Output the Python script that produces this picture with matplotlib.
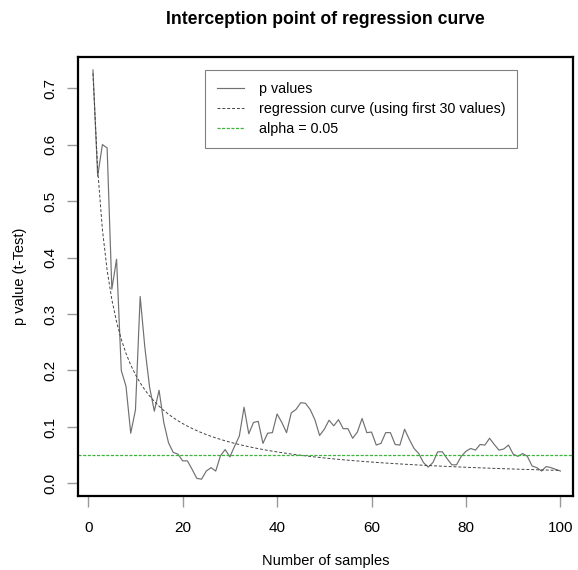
import numpy as np
import matplotlib
matplotlib.use("Agg")
import matplotlib.pyplot as plt

plt.rcParams["font.family"] = ["Liberation Sans", "DejaVu Sans"]

# p values, one per sample size 1..100
samples = np.arange(1, 101)
p_values = [
    0.732, 0.544, 0.600, 0.594, 0.344, 0.397, 0.200, 0.172, 0.089, 0.130,
    0.331, 0.240, 0.170, 0.128, 0.165, 0.108, 0.072, 0.055, 0.052, 0.040,
    0.040, 0.025, 0.009, 0.0076, 0.022, 0.028, 0.022, 0.049, 0.060, 0.047,
    0.066, 0.084, 0.135, 0.088, 0.108, 0.110, 0.071, 0.089, 0.090, 0.123,
    0.108, 0.090, 0.125, 0.131, 0.143, 0.142, 0.131, 0.113, 0.085, 0.096,
    0.112, 0.102, 0.113, 0.097, 0.097, 0.080, 0.091, 0.115, 0.090, 0.091,
    0.068, 0.071, 0.090, 0.090, 0.069, 0.068, 0.096, 0.078, 0.062, 0.053,
    0.037, 0.029, 0.037, 0.056, 0.056, 0.044, 0.033, 0.033, 0.048, 0.057,
    0.062, 0.059, 0.069, 0.068, 0.080, 0.069, 0.059, 0.061, 0.068, 0.052,
    0.048, 0.053, 0.048, 0.031, 0.028, 0.022, 0.030, 0.028, 0.025, 0.022,
]
alpha = 0.05

# regression curve p = a / (x + c), coefficients
reg_a = 2.36
reg_c = 2.25
reg_curve = reg_a / (samples + reg_c)

x_ticks = [0, 20, 40, 60, 80, 100]
y_ticks = [0.0, 0.1, 0.2, 0.3, 0.4, 0.5, 0.6, 0.7]

fig = plt.figure(figsize=(5.78, 5.70), dpi=100)
ax = fig.add_axes([0.1355, 0.1304, 0.8553, 0.7696])

ax.plot(samples, p_values, color="#707070", lw=0.85, label="p values")
ax.plot(samples, reg_curve, color="#444444", lw=0.7, ls=(0, (3, 2)),
        label="regression curve (using first 30 values)")
ax.axhline(alpha, color="#3cb33c", lw=0.9, ls=(0, (2.5, 1.2)),
           label="alpha = 0.05")

ax.set_xlim(-2.1, 102.6)
ax.set_ylim(-0.0216, 0.755)
ax.set_xticks(x_ticks)
ax.set_yticks(y_ticks)
ax.set_xticklabels([str(t) for t in x_ticks])
ax.set_yticklabels([f"{t:.1f}" for t in y_ticks], rotation=90, va="center")
ax.tick_params(axis="both", direction="out", length=8, width=1.0,
               color="#999999", labelsize=11, labelcolor="black")
ax.tick_params(axis="x", pad=10)
ax.tick_params(axis="y", pad=7)

for s in ax.spines.values():
    s.set_linewidth(1.6)
    s.set_color("black")

ax.set_xlabel("Number of samples", fontsize=10.5, va="center")
ax.xaxis.set_label_coords(0.5, -0.149)
ax.set_ylabel("p value (t-Test)", fontsize=10.5, va="center")
ax.yaxis.set_label_coords(-0.118, 0.5)

fig.text(0.5632, 1 - 20 / 570, "Interception point of regression curve",
         fontsize=12.7, fontweight="bold", ha="center", va="center")

leg = ax.legend(loc="upper left", bbox_to_anchor=(0.2563, 0.970),
                fontsize=10.3, frameon=True, fancybox=False, framealpha=1,
                edgecolor="#808080", handlelength=1.9, handletextpad=1.0,
                borderpad=0.85, labelspacing=0.42, borderaxespad=0)
leg.get_frame().set_linewidth(0.8)

fig.savefig("out.png", dpi=100)
